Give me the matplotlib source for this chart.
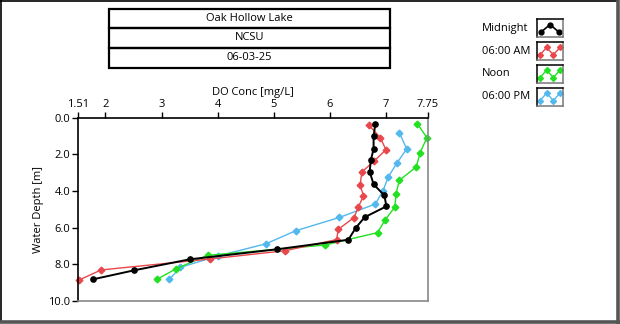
import matplotlib
matplotlib.use("Agg")
import matplotlib.pyplot as plt
from matplotlib.patches import Rectangle
from matplotlib.lines import Line2D

plt.rcParams['font.family'] = ['Open Sans', 'DejaVu Sans']
plt.rcParams['font.size'] = 8

# dissolved oxygen profiles (mg/L) against depth (m)
midnight_do = [6.81, 6.78, 6.78, 6.73, 6.71, 6.78, 6.97, 7.01, 6.62, 6.46, 6.33, 5.06, 3.50, 2.51, 1.78]
midnight_depth = [0.36, 1.02, 1.71, 2.33, 2.95, 3.64, 4.24, 4.84, 5.44, 6.03, 6.67, 7.19, 7.74, 8.34, 8.83]

am6_do = [6.70, 6.90, 7.00, 6.79, 6.57, 6.54, 6.60, 6.51, 6.43, 6.15, 6.12, 5.20, 3.86, 1.92, 1.53]
am6_depth = [0.42, 1.09, 1.75, 2.37, 2.97, 3.68, 4.27, 4.87, 5.46, 6.10, 6.66, 7.27, 7.72, 8.32, 8.87]

noon_do = [7.56, 7.73, 7.61, 7.54, 7.24, 7.18, 7.16, 6.99, 6.85, 5.91, 3.82, 3.26, 2.92]
noon_depth = [0.33, 1.09, 1.91, 2.69, 3.42, 4.15, 4.88, 5.57, 6.28, 6.96, 7.52, 8.25, 8.83]

pm6_do = [7.24, 7.37, 7.20, 7.04, 6.95, 6.81, 6.17, 5.39, 4.86, 4.00, 3.33, 3.14]
pm6_depth = [0.82, 1.71, 2.46, 3.24, 3.98, 4.72, 5.45, 6.18, 6.89, 7.56, 8.18, 8.84]

x_ticks = [1.51, 2, 3, 4, 5, 6, 7, 7.75]
y_ticks = [0, 2, 4, 6, 8, 10]
header_rows = ["Oak Hollow Lake", "NCSU", "06-03-25"]
legend_names = ["Midnight", "06:00 AM", "Noon", "06:00 PM"]

BLACK = '#000000'
RED = '#E8474B'
GREEN = '#22E022'
BLUE = '#52B8EE'

W, H = 620, 324
fig = plt.figure(figsize=(W / 100, H / 100), dpi=100)


def fx(px):
    return px / W


def fy(py):
    return 1 - py / H


# main profile plot
ax = fig.add_axes([fx(78), fy(300.7), fx(428 - 78), (300.7 - 117.7) / H])
series = [
    (pm6_do, pm6_depth, BLUE, 'D', 1.0, 3.4),
    (noon_do, noon_depth, GREEN, 'D', 1.0, 3.4),
    (am6_do, am6_depth, RED, 'D', 1.0, 3.4),
    (midnight_do, midnight_depth, BLACK, 'o', 1.4, 3.8),
]
for xs, ys, c, m, lw, ms in series:
    ax.plot(xs, ys, color=c, marker=m, lw=lw, ms=ms, mec=c, clip_on=False)

ax.set_xlim(1.51, 7.75)
ax.set_ylim(10, 0)
ax.xaxis.tick_top()
ax.xaxis.set_label_position('top')
ax.set_xticks(x_ticks)
ax.set_xticklabels([f"{v:g}" for v in x_ticks])
ax.set_yticks(y_ticks)
ax.set_yticklabels([f"{v:.1f}" for v in y_ticks])
ax.tick_params(axis='both', direction='out', length=4, width=1, pad=1.5, labelsize=8)
ax.set_xlabel("DO Conc [mg/L]", fontsize=8, labelpad=3)
ax.set_ylabel("Water Depth [m]", fontsize=8, labelpad=3)
ax.spines['top'].set_color('black')
ax.spines['left'].set_color('black')
ax.spines['right'].set_color('#888888')
ax.spines['bottom'].set_color('#888888')
for s in ax.spines.values():
    s.set_linewidth(1.2)

# header table
row_edges = [9, 28, 48, 68]
for i, txt in enumerate(header_rows):
    y0, y1 = row_edges[i], row_edges[i + 1]
    fig.patches.append(Rectangle((fx(109), fy(y1)), fx(390 - 109), (y1 - y0) / H,
                                 transform=fig.transFigure, fill=False,
                                 edgecolor='black', lw=1.6))
    fig.text(fx(249.5), fy((y0 + y1) / 2), txt, ha='center', va='center', fontsize=8)

# legend with small sample plots
legend_rows = [(19.3, 37.3), (42.3, 60), (65, 82.7), (87.7, 106)]
legend_styles = [(BLACK, 'o', [0, 1, 0]), (RED, 'D', [0, 1, 0, 1]),
                 (GREEN, 'D', [0, 1, 0, 1]), (BLUE, 'D', [0, 1, 0, 1])]
for (y0, y1), name, (c, m, shape) in zip(legend_rows, legend_names, legend_styles):
    fig.text(fx(482), fy((y0 + y1) / 2), name, ha='left', va='center', fontsize=8)
    lax = fig.add_axes([fx(536.7), fy(y1), fx(563.3 - 536.7), (y1 - y0) / H])
    xs = list(range(len(shape)))
    if m == 'o':
        lax.plot(xs, shape, color=c, lw=1.2, marker='o', ms=3.5, mec=c)
    else:
        lax.plot(xs, shape, color=c, lw=1.0, marker=m, ms=3, mec=c)
    lax.set_xlim(-0.5, len(shape) - 0.5)
    lax.set_ylim(-0.7, 1.7)
    lax.set_xticks([])
    lax.set_yticks([])
    for side in ('top', 'left'):
        lax.spines[side].set_color('black')
    for side in ('right', 'bottom'):
        lax.spines[side].set_color('#777777')
    for s in lax.spines.values():
        s.set_linewidth(1.1)

# panel frame
fig.add_artist(Line2D([fx(0.5), fx(0.5)], [fy(0), fy(321)], color='black', lw=1.2))
fig.add_artist(Line2D([fx(0), fx(618)], [fy(0.5), fy(0.5)], color='black', lw=1.2))
fig.add_artist(Line2D([fx(618), fx(618)], [fy(0), fy(324)], color='#555555', lw=2.6))
fig.add_artist(Line2D([fx(0), fx(620)], [fy(322), fy(322)], color='#555555', lw=2.6))

fig.savefig("out.png", dpi=100)
